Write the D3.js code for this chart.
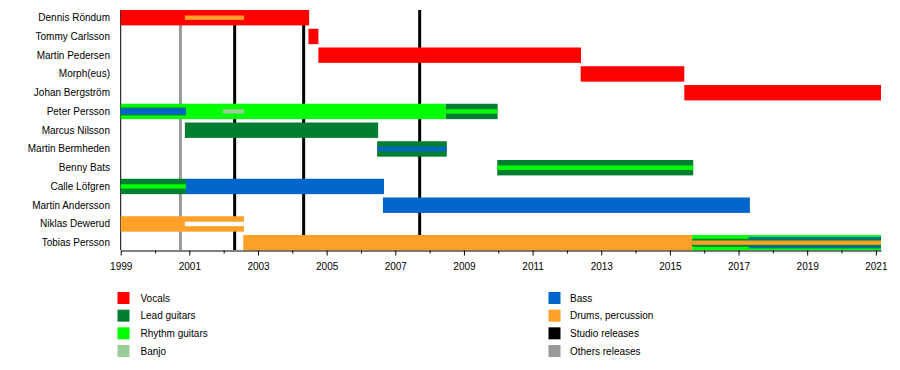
<!DOCTYPE html>
<html><head><meta charset="utf-8">
<script src="https://cdn.jsdelivr.net/npm/d3@7"></script>
<style>body{margin:0;background:#fff}svg{display:block;font-family:"Liberation Sans",Arial,sans-serif}</style>
</head><body><svg id="c" width="900" height="370"></svg>
<script>
const members = ["Dennis Röndum","Tommy Carlsson","Martin Pedersen","Morph(eus)","Johan Bergström","Peter Persson","Marcus Nilsson","Martin Bermheden","Benny Bats","Calle Löfgren","Martin Andersson","Niklas Dewerud","Tobias Persson"];
const roles = ["Vocals","Lead guitars","Rhythm guitars","Banjo","Bass","Drums, percussion","Studio releases","Others releases","gap"];
const roleColors = ["#ff0000","#007f33","#00ff00","#99cc99","#0066cc","#ffa028","#000000","#999999","#ffffff"];
// [member, role, start, end, nesting layer]
const periods = [
  ["Dennis Röndum","Vocals",1999,2004.49,0],
  ["Dennis Röndum","Drums, percussion",2000.87,2002.59,4],
  ["Tommy Carlsson","Vocals",2004.47,2004.76,0],
  ["Martin Pedersen","Vocals",2004.76,2012.41,0],
  ["Morph(eus)","Vocals",2012.40,2015.42,0],
  ["Johan Bergström","Vocals",2015.42,2021.15,0],
  ["Peter Persson","Rhythm guitars",1999,2008.47,0],
  ["Peter Persson","Lead guitars",1999,2000.9,2],
  ["Peter Persson","Bass",1999,2000.9,3],
  ["Peter Persson","Banjo",2001.98,2002.59,4],
  ["Peter Persson","Lead guitars",2008.47,2009.98,0],
  ["Peter Persson","Rhythm guitars",2008.47,2009.98,4],
  ["Marcus Nilsson","Lead guitars",2000.87,2006.5,0],
  ["Martin Bermheden","Lead guitars",2006.47,2008.5,0],
  ["Martin Bermheden","Bass",2006.47,2008.5,4],
  ["Benny Bats","Lead guitars",2009.97,2015.68,0],
  ["Benny Bats","Rhythm guitars",2009.97,2015.68,4],
  ["Calle Löfgren","Lead guitars",1999,2000.9,0],
  ["Calle Löfgren","Rhythm guitars",1999,2000.9,4],
  ["Calle Löfgren","Bass",2000.9,2006.67,0],
  ["Martin Andersson","Bass",2006.64,2017.33,0],
  ["Niklas Dewerud","Drums, percussion",1999,2002.59,0],
  ["Niklas Dewerud","gap",2000.87,2002.59,4],
  ["Tobias Persson","Drums, percussion",2002.57,2015.65,0],
  ["Tobias Persson","Rhythm guitars",2015.65,2021.15,0],
  ["Tobias Persson","Bass",2017.3,2021.15,1],
  ["Tobias Persson","Lead guitars",2015.65,2021.15,2],
  ["Tobias Persson","Drums, percussion",2015.65,2021.15,4]
];
const studioReleases = [2002.32, 2004.33, 2007.71];
const otherReleases = [2000.74];
const tickYears = [1999,2000,2001,2002,2003,2004,2005,2006,2007,2008,2009,2010,2011,2012,2013,2014,2015,2016,2017,2018,2019,2020,2021];
const legendLeft = ["Vocals","Lead guitars","Rhythm guitars","Banjo"];
const legendRight = ["Bass","Drums, percussion","Studio releases","Others releases"];

const svg = d3.select("#c");
const color = d3.scaleOrdinal().domain(roles).range(roleColors);
const x = d3.scaleLinear().domain([1999, 2021.15]).range([120.7, 881]);
const step = 18.75, bh = 15.4;
const y = d3.scaleBand().domain(members).range([10, 10 + 12*step + bh]).paddingInner(1 - bh/step).paddingOuter(0);
const layerH = d3.scaleOrdinal().domain([0,1,2,3,4]).range([bh, bh-4, 8, 6, 4.4]);

// left axis line
svg.append("line").attr("x1",120.7).attr("x2",120.7).attr("y1",10).attr("y2",250).attr("stroke","#000").attr("stroke-width",1);

// release lines (behind bars)
svg.selectAll("line.oth").data(otherReleases).join("line").attr("class","oth")
  .attr("x1",d=>x(d)).attr("x2",d=>x(d)).attr("y1",10).attr("y2",250)
  .attr("stroke",color("Others releases")).attr("stroke-width",3);
svg.selectAll("line.stu").data(studioReleases).join("line").attr("class","stu")
  .attr("x1",d=>x(d)).attr("x2",d=>x(d)).attr("y1",10).attr("y2",250)
  .attr("stroke",color("Studio releases")).attr("stroke-width",3);

// bars
svg.selectAll("rect.bar").data(periods).join("rect").attr("class","bar")
  .attr("x",d=>x(d[2])).attr("width",d=>x(d[3])-x(d[2]))
  .attr("y",d=>y(d[0]) + (bh - layerH(d[4]))/2).attr("height",d=>layerH(d[4]))
  .attr("fill",d=>color(d[1]));

// names
svg.selectAll("text.name").data(members).join("text").attr("class","name")
  .attr("x",110).attr("y",d=>y(d)+bh/2).attr("dy","0.35em").attr("text-anchor","end")
  .attr("font-size",10).attr("fill","#000").text(d=>d);

// axis
const axis = d3.axisBottom(x).tickValues(tickYears).tickSizeOuter(0)
  .tickSize(0).tickFormat(d => (d % 2 === 1) ? String(d) : "");
const ag = svg.append("g").attr("transform","translate(0,250.5)").call(axis);
ag.select(".domain").attr("stroke","#000");
ag.selectAll(".tick line").attr("y2", d => d % 2 === 1 ? 5 : 3).attr("stroke","#000");
ag.selectAll(".tick text").attr("y",16).attr("dy","0.35em").attr("font-size",10).attr("font-family","Liberation Sans, Arial, sans-serif").attr("fill","#000");

// legend
function legend(items, sx, tx){
  const g = svg.append("g");
  const ly = d3.scalePoint().domain(items).range([298, 351]);
  g.selectAll("rect").data(items).join("rect")
    .attr("x",sx).attr("y",d=>ly(d)-6).attr("width",12).attr("height",12).attr("fill",d=>color(d));
  g.selectAll("text").data(items).join("text")
    .attr("x",tx).attr("y",d=>ly(d)).attr("dy","0.35em").attr("font-size",10).attr("fill","#000").text(d=>d);
}
legend(legendLeft, 117.5, 140.5);
legend(legendRight, 548.5, 570);
</script></body></html>
